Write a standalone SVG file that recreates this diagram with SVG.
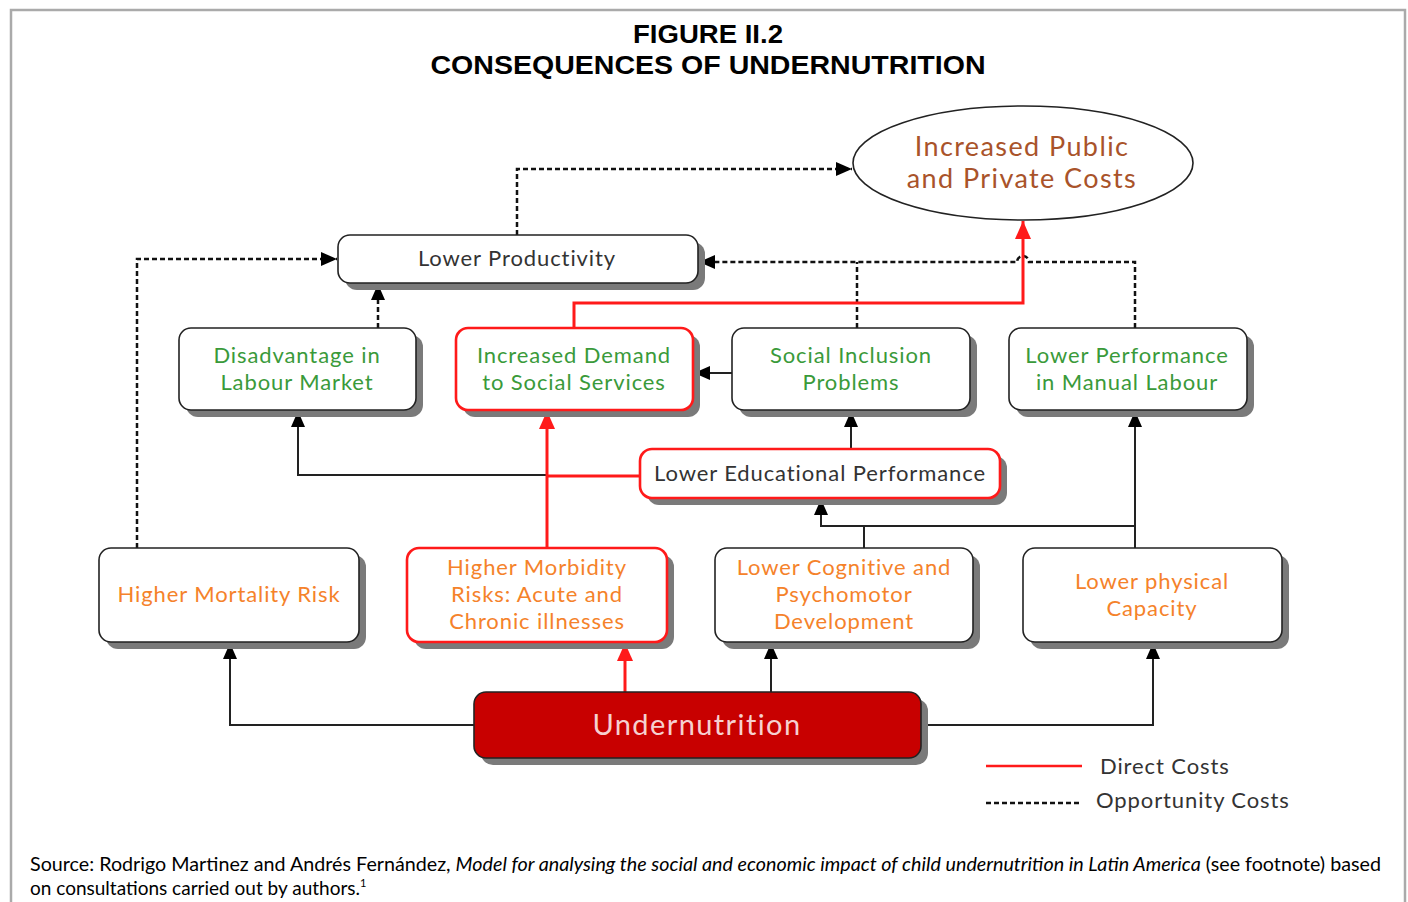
<svg xmlns="http://www.w3.org/2000/svg" width="1408" height="902" viewBox="0 0 1408 902">
<style>
.box{fill:#fff;stroke:#222;stroke-width:1.6}
.rbox{fill:#fff;stroke:#ff1a1a;stroke-width:2.6}
.sh{fill:#7a7a7a}
.t{font-family:Lato,"Liberation Sans",sans-serif;font-size:22px;letter-spacing:0.9px;text-anchor:middle}
.g{fill:#3a9a3a}
.o{fill:#f5822a}
.d{fill:#333}
.br{fill:#a9532a}
.solid{fill:none;stroke:#222;stroke-width:2}
.red{fill:none;stroke:#ff1a1a;stroke-width:3}
.dash{fill:none;stroke:#111;stroke-width:2.5;stroke-dasharray:5 3}
</style>
<defs>
<marker id="ab" viewBox="0 0 16 14" markerWidth="16" markerHeight="14" refX="16" refY="7" orient="auto" markerUnits="userSpaceOnUse"><path d="M0,0 L16,7 L0,14 z" fill="#000"/></marker>
<marker id="ar" viewBox="0 0 18 16" markerWidth="18" markerHeight="16" refX="18" refY="8" orient="auto" markerUnits="userSpaceOnUse"><path d="M0,0 L18,8 L0,16 z" fill="#ff1a1a"/></marker>
</defs>
<rect width="1408" height="902" fill="#fff"/>
<path d="M11,902 V10 H1405 V902" fill="none" stroke="#aaa" stroke-width="2.5"/>
<g id="title" font-family="'Liberation Sans',sans-serif" font-weight="bold" font-size="25" text-anchor="middle" fill="#000">
<text x="708" y="43" textLength="150" lengthAdjust="spacingAndGlyphs">FIGURE II.2</text>
<text x="708" y="74" textLength="555" lengthAdjust="spacingAndGlyphs">CONSEQUENCES OF UNDERNUTRITION</text>
</g>
<g id="connectors">
<path class="dash" d="M517,235 V169 H852" marker-end="url(#ab)"/>
<path class="dash" d="M137,548 V259 H337" marker-end="url(#ab)"/>
<path class="dash" d="M378,328 V284" marker-end="url(#ab)"/>
<path class="dash" d="M1135,328 V262 H1029 A6,6 0 0 0 1017,262 H699" marker-end="url(#ab)"/>
<path class="dash" d="M857,328 V262"/>
<path class="red" d="M574,328 V303 H1023 V221" marker-end="url(#ar)"/>
<path class="solid" d="M732,373 H694" marker-end="url(#ab)"/>
<path class="solid" d="M547,475 H298 V411" marker-end="url(#ab)"/>
<path class="red" d="M547,548 V411" marker-end="url(#ar)"/>
<path class="red" d="M640,476 H547"/>
<path class="solid" d="M851,449 V411" marker-end="url(#ab)"/>
<path class="solid" d="M864,548 V526 H821 V499" marker-end="url(#ab)"/>
<path class="solid" d="M864,526 H1135"/>
<path class="solid" d="M1135,548 V411" marker-end="url(#ab)"/>
<path class="solid" d="M474,725 H230 V643" marker-end="url(#ab)"/>
<path class="red" d="M625,692 V643" marker-end="url(#ar)"/>
<path class="solid" d="M771,692 V643" marker-end="url(#ab)"/>
<path class="solid" d="M921,725 H1153 V643" marker-end="url(#ab)"/>
</g>
<g id="n-costs">
<ellipse cx="1023" cy="163" rx="170" ry="57" fill="#fff" stroke="#222" stroke-width="1.6"/>
<text class="t br" x="1022" y="156" style="font-size:27px;letter-spacing:1.4px">Increased Public</text>
<text class="t br" x="1022" y="188" style="font-size:27px;letter-spacing:1.4px">and Private Costs</text>
</g>
<g id="n-productivity">
<rect class="sh" x="345" y="242" width="360" height="48" rx="12"/>
<rect class="box" x="338" y="235" width="360" height="48" rx="12"/>
<text class="t d" x="517" y="266">Lower Productivity</text>
</g>
<g id="n-disadvantage">
<rect class="sh" x="186" y="335" width="237" height="82" rx="12"/>
<rect class="box" x="179" y="328" width="237" height="82" rx="12"/>
<text class="t g" x="297" y="363">Disadvantage in</text>
<text class="t g" x="297" y="390">Labour Market</text>
</g>
<g id="n-demand">
<rect class="sh" x="463" y="335" width="237" height="82" rx="12"/>
<rect class="rbox" x="456" y="328" width="237" height="82" rx="12"/>
<text class="t g" x="574" y="363">Increased Demand</text>
<text class="t g" x="574" y="390">to Social Services</text>
</g>
<g id="n-inclusion">
<rect class="sh" x="739" y="335" width="238" height="82" rx="12"/>
<rect class="box" x="732" y="328" width="238" height="82" rx="12"/>
<text class="t g" x="851" y="363">Social Inclusion</text>
<text class="t g" x="851" y="390">Problems</text>
</g>
<g id="n-manual">
<rect class="sh" x="1016" y="335" width="238" height="82" rx="12"/>
<rect class="box" x="1009" y="328" width="238" height="82" rx="12"/>
<text class="t g" x="1127" y="363">Lower Performance</text>
<text class="t g" x="1127" y="390">in Manual Labour</text>
</g>
<g id="n-education">
<rect class="sh" x="647" y="456" width="360" height="49" rx="12"/>
<rect class="rbox" x="640" y="449" width="360" height="49" rx="12"/>
<text class="t d" x="820" y="481">Lower Educational Performance</text>
</g>
<g id="n-mortality">
<rect class="sh" x="106" y="555" width="260" height="94" rx="12"/>
<rect class="box" x="99" y="548" width="260" height="94" rx="12"/>
<text class="t o" x="229" y="602">Higher Mortality Risk</text>
</g>
<g id="n-morbidity">
<rect class="sh" x="414" y="555" width="260" height="94" rx="12"/>
<rect class="rbox" x="407" y="548" width="260" height="94" rx="12"/>
<text class="t o" x="537" y="575">Higher Morbidity</text>
<text class="t o" x="537" y="602">Risks: Acute and</text>
<text class="t o" x="537" y="629">Chronic illnesses</text>
</g>
<g id="n-cognitive">
<rect class="sh" x="722" y="555" width="258" height="94" rx="12"/>
<rect class="box" x="715" y="548" width="258" height="94" rx="12"/>
<text class="t o" x="844" y="575">Lower Cognitive and</text>
<text class="t o" x="844" y="602">Psychomotor</text>
<text class="t o" x="844" y="629">Development</text>
</g>
<g id="n-physical">
<rect class="sh" x="1030" y="555" width="259" height="94" rx="12"/>
<rect class="box" x="1023" y="548" width="259" height="94" rx="12"/>
<text class="t o" x="1152" y="589">Lower physical</text>
<text class="t o" x="1152" y="616">Capacity</text>
</g>
<g id="n-undernutrition">
<rect class="sh" x="481" y="699" width="447" height="66" rx="12"/>
<rect x="474" y="692" width="447" height="66" rx="12" fill="#c80000" stroke="#222" stroke-width="1.6"/>
<text class="t" x="697" y="735" style="font-size:29px;letter-spacing:1.4px" fill="#f6d0d0">Undernutrition</text>
</g>
<g id="legend">
<line x1="986" y1="766" x2="1082" y2="766" stroke="#ff1a1a" stroke-width="2.5"/>
<line x1="986" y1="803" x2="1082" y2="803" class="dash"/>
<text class="t d" x="1100" y="774" style="text-anchor:start">Direct Costs</text>
<text class="t d" x="1096" y="808" style="text-anchor:start">Opportunity Costs</text>
</g>
<g id="source" font-family="Lato,'Liberation Sans',sans-serif" font-size="19" fill="#000">
<text x="30" y="871" textLength="1351" lengthAdjust="spacingAndGlyphs">Source: Rodrigo Martinez and Andrés Fernández, <tspan font-style="italic">Model for analysing the social and economic impact of child undernutrition in Latin America</tspan> (see footnote) based</text>
<text x="30" y="895">on consultations carried out by authors.<tspan font-size="11" dy="-8">1</tspan></text>
</g>
</svg>
